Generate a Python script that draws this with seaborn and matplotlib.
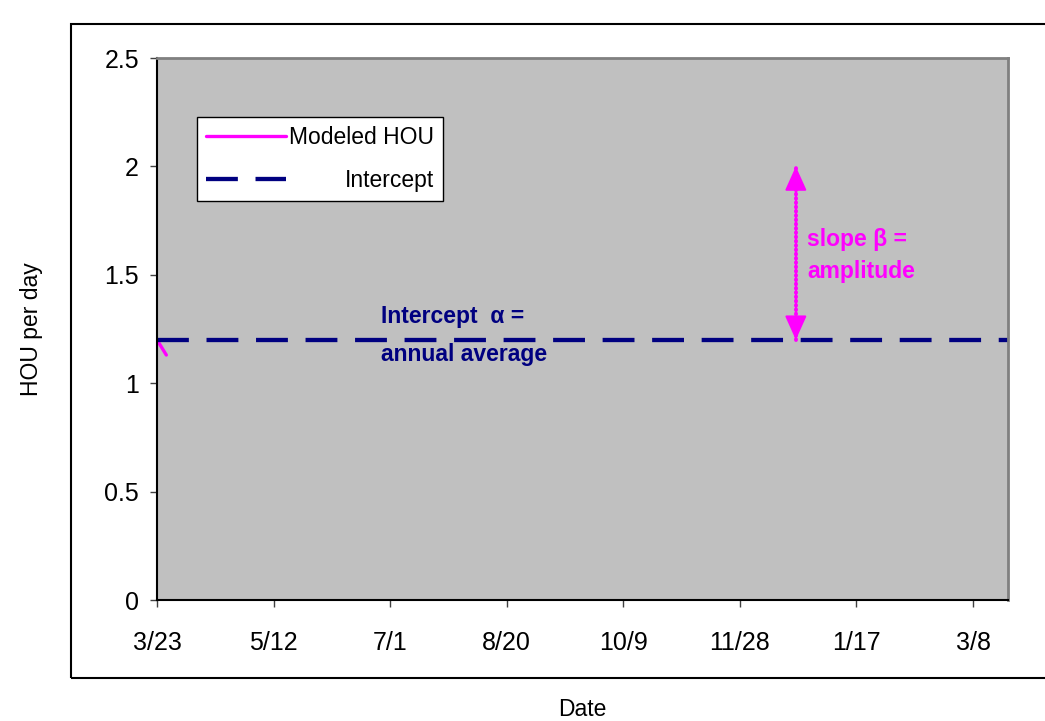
import pandas as pd
import matplotlib.pyplot as plt
import matplotlib.patches as mpatches
import seaborn as sns

# data (x in days from 3/23)
tick_days = [0, 50, 100, 150, 200, 250, 300, 350]
tick_labels = ["3/23", "5/12", "7/1", "8/20", "10/9", "11/28", "1/17", "3/8"]
year_days = [0, 365]
intercept = [1.2, 1.2]
modeled_days = [0, 4]
modeled_hou = [1.2, 1.13]
arrow_days = [274, 274]
arrow_hou = [1.2, 2.0]

sns.set_style("white")
plt.rcParams['font.family'] = ['Liberation Sans', 'DejaVu Sans']
plt.rcParams['text.color'] = 'black'
plt.rcParams['axes.labelcolor'] = 'black'
plt.rcParams['xtick.labelcolor'] = 'black'
plt.rcParams['ytick.labelcolor'] = 'black'

fig = plt.figure(figsize=(10.45, 7.21), dpi=100)
ax = fig.add_axes([157 / 1045, 121 / 721, 851 / 1045, 542 / 721])
ax.set_facecolor("#c0c0c0")

# outer chart box (right edge runs off the picture)
fig.patches.append(mpatches.Rectangle((71 / 1045, 43 / 721), 1.0, 654 / 721,
                                      transform=fig.transFigure, fill=False,
                                      edgecolor="black", linewidth=1.5, zorder=0))

df_model = pd.DataFrame({"day": modeled_days, "hou": modeled_hou})
df_int = pd.DataFrame({"day": year_days, "hou": intercept})
df_arrow = pd.DataFrame({"day": arrow_days, "hou": arrow_hou})

sns.lineplot(data=df_model, x="day", y="hou", ax=ax, color="#ff00ff",
             linewidth=2.4, label="Modeled HOU")
sns.lineplot(data=df_int, x="day", y="hou", ax=ax, color="#000080",
             linewidth=3.1, label="Intercept")
ax.lines[1].set_dashes((7.4, 4.1))

# amplitude arrow: dotted stem plus solid heads at both ends
sns.lineplot(data=df_arrow, x="day", y="hou", ax=ax, color="#ff00ff",
             linewidth=2.8, legend=False, estimator=None, sort=False)
stem = ax.lines[-1]
stem.set_dashes((0.2, 0.9))
stem.set_dash_capstyle("round")
for end, start in [(arrow_hou[1], arrow_hou[1] - 0.05), (arrow_hou[0], arrow_hou[0] + 0.05)]:
    ax.annotate("", xy=(arrow_days[0], end), xytext=(arrow_days[0], start),
                arrowprops=dict(arrowstyle="-|>,head_length=1.0,head_width=0.45",
                                color="#ff00ff", linewidth=1.5,
                                mutation_scale=15, shrinkA=0, shrinkB=0))

ax.text(279, 1.715, "slope β =\namplitude", color="#ff00ff", fontsize=16.5,
        fontweight="bold", ha="left", va="top", linespacing=1.5)
ax.text(96, 1.36, "Intercept  α =\nannual average", color="#000080", fontsize=16.5,
        fontweight="bold", ha="left", va="top", linespacing=1.8)

ax.set_xlim(0, 365)
ax.set_ylim(0, 2.5)
ax.set_xticks(tick_days)
ax.set_xticklabels(tick_labels)
ax.set_yticks([0, 0.5, 1, 1.5, 2, 2.5])
ax.set_yticklabels(["0", "0.5", "1", "1.5", "2", "2.5"])
ax.tick_params(axis="both", labelsize=18, length=5, width=1, color="#404040",
               direction="out", left=True, bottom=True)
ax.tick_params(axis="x", pad=17)
ax.tick_params(axis="y", pad=8)

ax.set_xlabel("Date", fontsize=16.5, labelpad=31)
ax.set_ylabel("HOU per day", fontsize=16.5, labelpad=44)

for side in ["left", "bottom"]:
    ax.spines[side].set_color("black")
    ax.spines[side].set_linewidth(1.5)
for side in ["top", "right"]:
    ax.spines[side].set_color("#808080")
    ax.spines[side].set_linewidth(2)

leg = ax.legend(loc="upper left", bbox_to_anchor=(0.047, 0.891), fontsize=16.5,
                frameon=True, fancybox=False, edgecolor="black", framealpha=1,
                handlelength=3.5, handletextpad=0.1, labelspacing=0.85,
                borderpad=0.4, borderaxespad=0)
leg.get_frame().set_linewidth(1)

# right-align the legend labels (Excel style) by widening the gap of the shorter one
fig.canvas.draw()
renderer = fig.canvas.get_renderer()
texts = leg.get_texts()
widths = [t.get_window_extent(renderer).width for t in texts]
column = leg._legend_handle_box.get_children()[0]
items = column.get_children()
for item, w in zip(items, widths):
    item.sep = item.sep + (max(widths) - w) * 72 / fig.dpi

fig.savefig("out.png", dpi=100)
